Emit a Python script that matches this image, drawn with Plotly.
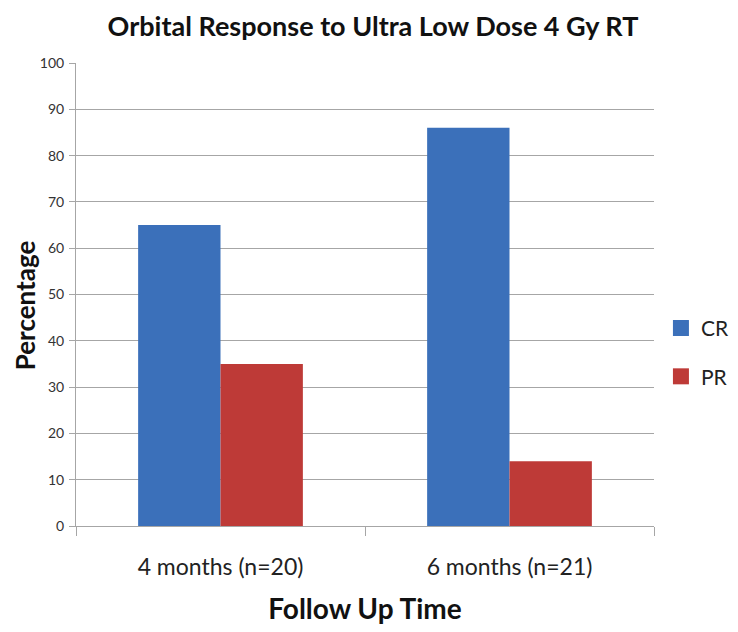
import plotly.graph_objects as go

categories = ["4 months (n=20)", "6 months (n=21)"]
cr_values = [65, 86]
pr_values = [35, 14]
y_ticks = list(range(0, 101, 10))
series_names = ["CR", "PR"]
series_colors = ["#3B70BA", "#BE3A37"]

fig = go.Figure()
for name, vals, col in zip(series_names, [cr_values, pr_values], series_colors):
    fig.add_trace(go.Bar(name=name, x=categories, y=vals, showlegend=False,
                         marker=dict(color=col, line=dict(width=0))))
# legend entries with larger square swatches
for name, col in zip(series_names, series_colors):
    fig.add_trace(go.Scatter(name=name, x=[None], y=[None], mode="markers", legendgroup=name,
                             marker=dict(symbol="square", size=16, color=col)))

font_family = "Lato, 'Open Sans', sans-serif"
fig.update_layout(
    width=730, height=624,
    paper_bgcolor="white", plot_bgcolor="white",
    barmode="group", bargap=0.43, bargroupgap=0,
    margin=dict(l=68, r=84, t=55, b=106, autoexpand=False),
    title=dict(text="<b>Orbital Response to Ultra Low Dose 4 Gy RT</b>", x=0.5, xanchor="center",
               y=0.970, yanchor="middle", font=dict(family=font_family, size=27, color="#111")),
    font=dict(family=font_family, color="#222"),
    legend=dict(x=1.012, y=0.375, xanchor="left", yanchor="middle", font=dict(size=21, color="#222"),
                traceorder="grouped", tracegroupgap=18, itemwidth=30, itemsizing="trace",
                bgcolor="rgba(0,0,0,0)"),
    showlegend=True,
    annotations=[dict(text="<b>Percentage</b>", textangle=-90, xref="paper", yref="paper",
                      x=-0.088, y=0.477, xanchor="center", yanchor="middle", showarrow=False,
                      font=dict(family=font_family, size=26, color="#111"))],
)
fig.update_yaxes(range=[0, 100], tickvals=y_ticks, showgrid=True, gridcolor="#A6A6A6", gridwidth=1,
                 showline=True, linecolor="#A6A6A6", linewidth=1, ticks="outside", ticklen=6,
                 tickcolor="#A6A6A6", tickfont=dict(size=14, color="#333"), zeroline=False,
                 automargin=False, ticklabelstandoff=2)
fig.update_xaxes(showline=True, linecolor="#A6A6A6", linewidth=1, ticks="outside", ticklen=9,
                 tickson="boundaries", tickcolor="#A6A6A6", tickfont=dict(size=23, color="#222"),
                 automargin=False, ticklabelstandoff=20,
                 title=dict(text="<b>Follow Up Time</b>", font=dict(size=28, color="#111"), standoff=20))

fig.write_html("out.html")
